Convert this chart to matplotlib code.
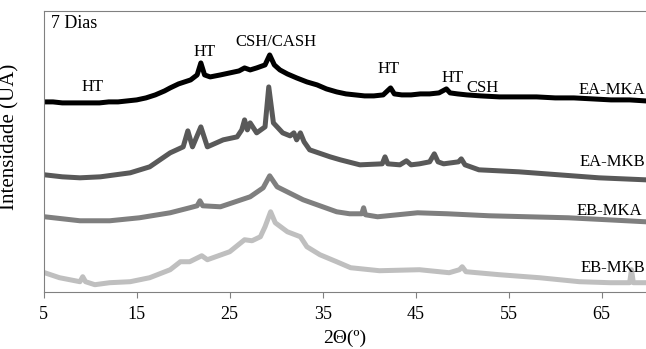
import numpy as np
import matplotlib
matplotlib.use('Agg')
import matplotlib.pyplot as plt

plt.rcParams['font.family'] = 'Liberation Serif'

# EA-MKA (black)
ea_mka_x = [5, 6, 7, 8, 9, 10, 11, 12, 13, 14, 15, 16, 17, 18, 18.6, 19.5, 20.8, 21.5, 21.9, 22.3, 22.9,
            24, 25, 26, 26.6, 27.2, 27.9, 28.8, 29.3, 29.8, 30.4, 31.2, 32.2, 33.3, 34.4, 35.4, 36.5, 37.5,
            38.5, 39.5, 40.5, 41.5, 42.3, 42.7, 43.5, 44.5, 45.5, 46.5, 47.5, 48.3, 48.7, 49.5, 50.5,
            52, 54, 56, 58, 60, 62, 64, 66, 68, 69.7]
ea_mka_y = [190, 190, 189, 189, 189, 189, 189, 190, 190, 191, 192, 194, 197, 201, 204, 208, 212, 217,
            229, 217, 215, 217, 219, 221, 224, 222, 224, 227, 237, 227, 222, 218, 214, 210, 207, 203,
            200, 198, 197, 196, 196, 197, 204, 198, 197, 197, 198, 198, 199, 203, 199, 198, 197,
            196, 195, 195, 195, 194, 194, 193, 192, 192, 191]

# EA-MKB (dark grey)
ea_mkb_x = [5.1, 7, 8.9, 11.1, 14.3, 16.4, 18.6, 20.0, 20.5, 21.0, 21.9, 22.6, 24.3, 25.8, 26.3,
            26.6, 26.9, 27.2, 27.9, 28.8, 29.2, 29.7, 30.7, 31.5, 31.9, 32.2, 32.6, 33.0, 33.6, 35.8,
            36.9, 39.0, 41.4, 41.7, 42.0, 43.3, 44.0, 44.5, 45.4, 46.5, 47.0, 47.4, 48.0, 49.6, 49.9,
            50.3, 51.8, 56.1, 60.4, 64.7, 69.7]
ea_mkb_y = [117, 115, 114, 115, 119, 125, 139, 145, 161, 145, 165, 145, 152, 155, 162, 172, 162, 169,
            159, 165, 205, 169, 159, 156, 159, 152, 159, 150, 142, 135, 132, 127, 128, 135, 128,
            127, 131, 127, 128, 130, 138, 130, 128, 130, 133, 127, 122, 120, 117, 114, 112]

# EB-MKA (mid grey)
eb_mka_x = [5.1, 7, 8.9, 12.1, 15.3, 18.6, 20.7, 21.5, 21.8, 22.1, 24.0, 27.2, 28.6, 29.3, 30.1,
            32.9, 34.7, 36.5, 37.9, 39.2, 39.4, 39.6, 40.9, 45.2, 48.4, 52.9, 57.1, 61.4, 65.6, 69.7]
eb_mka_y = [75, 73, 71, 71, 74, 79, 84, 86, 91, 86, 85, 95, 104, 116, 105, 92, 86, 80, 78, 78, 84, 77,
            75, 79, 78, 76, 75, 74, 72, 70]

# EB-MKB (light grey)
eb_mkb_x = [5.1, 6.7, 8.9, 9.2, 9.5, 10.5, 12.1, 14.3, 16.4, 18.6, 19.7, 20.7, 22.0, 22.6, 25.0,
            26.6, 27.4, 28.3, 28.8, 29.4, 29.9, 31.2, 32.6, 33.3, 34.7, 36.5, 38.0, 41.1, 45.4,
            48.6, 49.7, 50.0, 50.4, 54.0, 58.3, 62.6, 65.9, 68.0, 68.2, 68.4, 69.7]
eb_mkb_y = [19, 14, 10, 15, 10, 7, 9, 10, 14, 22, 30, 30, 36, 32, 40, 52, 51, 55, 65, 80, 69, 60,
            55, 45, 37, 30, 24, 21, 22, 19, 22, 25, 20, 17, 14, 10, 9, 9, 22, 9, 9]

fig = plt.figure(figsize=(6.46, 3.49), dpi=100)
ax = fig.add_axes([0.0676, 0.1642, 0.9324, 0.8043])

lw = 3.6
ax.plot(eb_mkb_x, eb_mkb_y, color='#bfbfbf', lw=lw, solid_joinstyle='round')
ax.plot(eb_mka_x, eb_mka_y, color='#7f7f7f', lw=lw, solid_joinstyle='round')
ax.plot(ea_mkb_x, ea_mkb_y, color='#595959', lw=lw, solid_joinstyle='round')
ax.plot(ea_mka_x, ea_mka_y, color='black', lw=lw, solid_joinstyle='round')

ax.set_xlim(5, 69.76)
ax.set_ylim(0, 281)
ax.set_xticks(range(5, 70, 10))
ax.set_yticks([])
ax.tick_params(axis='x', direction='out', length=4, color='#808080', labelsize=13, pad=6)
for s in ['left', 'bottom', 'top']:
    ax.spines[s].set_color('#808080')
ax.spines['right'].set_visible(False)

ax.set_xlabel('2Θ(º)', fontsize=14, labelpad=5)
ax.set_ylabel('Intensidade (UA)', fontsize=15)
ax.yaxis.set_label_coords(-0.04, 0.55)

# annotations
ax.text(0.012, 0.985, '7 Dias', transform=ax.transAxes, fontsize=13, va='top')
ax.text(10.3, 205, 'HT', fontsize=12, ha='center', va='center')
ax.text(22.3, 240, 'HT', fontsize=12, ha='center', va='center')
ax.text(30.0, 250, 'CSH/CASH', fontsize=12, ha='center', va='center')
ax.text(42.1, 223, 'HT', fontsize=12, ha='center', va='center')
ax.text(49.0, 214, 'HT', fontsize=12, ha='center', va='center')
ax.text(50.4, 204, 'CSH', fontsize=12, ha='left', va='center')
ax.text(69.7, 202, 'EA-MKA', fontsize=12, ha='right', va='center')
ax.text(69.7, 130, 'EA-MKB', fontsize=12, ha='right', va='center')
ax.text(69.3, 81, 'EB-MKA', fontsize=12, ha='right', va='center')
ax.text(69.7, 24, 'EB-MKB', fontsize=12, ha='right', va='center')

fig.savefig('out.png', dpi=100)
